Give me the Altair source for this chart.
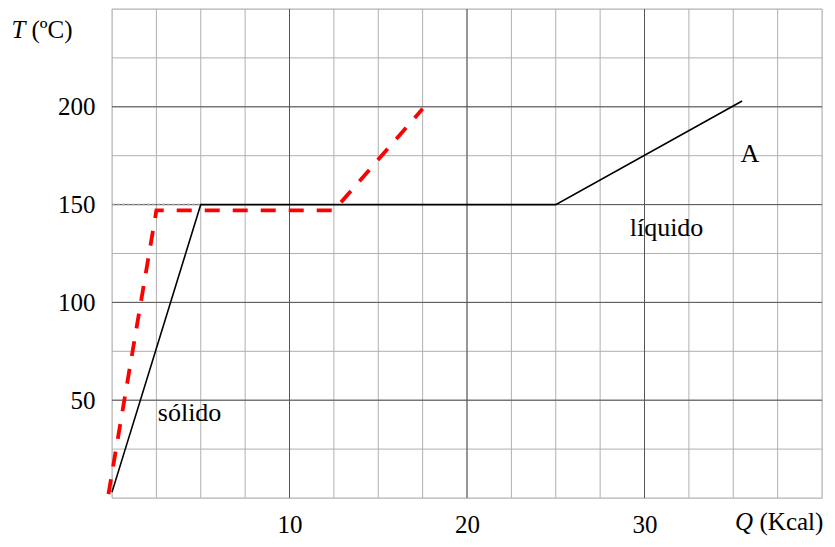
import altair as alt
import pandas as pd

# Data
solid_q = [0, 5, 25, 35.5]
solid_t = [3, 150, 150, 203]
red_q = [-0.2, 2.5, 12.5, 17.5]
red_t = [2, 147, 147, 199]
ref_q = [0, 5]
ref_t = [150, 150]
x_minor = [i * 2.5 for i in range(0, 17)]
x_major = [10, 20, 30]
y_minor = [i * 25 for i in range(0, 11)]
y_major = [50, 100, 150, 200]
ann_text = ["sólido", "líquido", "A"]
ann_q = [4.37, 31.24, 35.94]
ann_t = [39.5, 134, 172]

FONT = "Liberation Serif"
W, H = 710, 489

xs = alt.Scale(domain=[0, 40], nice=False, zero=False)
ys = alt.Scale(domain=[0, 250], nice=False, zero=False)

xaxis = alt.Axis(values=x_major, ticks=False, domain=False, grid=False,
                 labelFont=FONT, labelFontSize=25, labelColor="black",
                 labelPadding=14, title=None)
yaxis = alt.Axis(values=y_major, ticks=False, domain=False, grid=False,
                 labelFont=FONT, labelFontSize=25, labelColor="black",
                 labelPadding=17, title=None)

df_xminor = pd.DataFrame({"q": x_minor})
df_xmajor = pd.DataFrame({"q": x_major})
df_yminor = pd.DataFrame({"t": y_minor})
df_ymajor = pd.DataFrame({"t": y_major})

grid_x_minor = alt.Chart(df_xminor).mark_rule(color="#b0b0b0", strokeWidth=1).encode(
    x=alt.X("q:Q", scale=xs, axis=xaxis))
grid_y_minor = alt.Chart(df_yminor).mark_rule(color="#b0b0b0", strokeWidth=1).encode(
    y=alt.Y("t:Q", scale=ys, axis=yaxis))
grid_x_major = alt.Chart(df_xmajor).mark_rule(color="#555555", strokeWidth=1).encode(
    x=alt.X("q:Q", scale=xs, axis=xaxis))
grid_y_major = alt.Chart(df_ymajor).mark_rule(color="#555555", strokeWidth=1).encode(
    y=alt.Y("t:Q", scale=ys, axis=yaxis))

df_ref = pd.DataFrame({"q": ref_q, "t": ref_t})
ref_line = alt.Chart(df_ref).mark_line(color="#999999", strokeWidth=1.5,
                                       strokeDash=[3, 2]).encode(
    x=alt.X("q:Q", scale=xs, axis=xaxis), y=alt.Y("t:Q", scale=ys, axis=yaxis))

df_solid = pd.DataFrame({"q": solid_q, "t": solid_t, "o": range(len(solid_q))})
solid = alt.Chart(df_solid).mark_line(color="black", strokeWidth=1.6).encode(
    x=alt.X("q:Q", scale=xs, axis=xaxis), y=alt.Y("t:Q", scale=ys, axis=yaxis),
    order="o:Q")

df_red = pd.DataFrame({"q": red_q, "t": red_t, "o": range(len(red_q))})
red = alt.Chart(df_red).mark_line(color="#ff0000", strokeWidth=3.8,
                                  strokeDash=[15, 13], clip=False).encode(
    x=alt.X("q:Q", scale=xs, axis=xaxis), y=alt.Y("t:Q", scale=ys, axis=yaxis),
    order="o:Q")

df_ann = pd.DataFrame({"q": ann_q, "t": ann_t, "txt": ann_text})
ann = alt.Chart(df_ann).mark_text(font=FONT, fontSize=26, color="black",
                                  align="center", baseline="alphabetic").encode(
    x=alt.X("q:Q", scale=xs, axis=xaxis), y=alt.Y("t:Q", scale=ys, axis=yaxis),
    text="txt:N")

# axis titles (mixed italic / roman)
tt1 = alt.Chart(pd.DataFrame({"s": ["T"]})).mark_text(
    font=FONT, fontSize=25, fontStyle="italic", align="left", baseline="alphabetic",
    color="black").encode(x=alt.value(-100.5), y=alt.value(29), text="s:N")
tt2 = alt.Chart(pd.DataFrame({"s": ["(ºC)"]})).mark_text(
    font=FONT, fontSize=25, align="left", baseline="alphabetic",
    color="black").encode(x=alt.value(-80.5), y=alt.value(29), text="s:N")
qt1 = alt.Chart(pd.DataFrame({"s": ["Q"]})).mark_text(
    font=FONT, fontSize=25, fontStyle="italic", align="left", baseline="alphabetic",
    color="black").encode(x=alt.value(623), y=alt.value(521), text="s:N")
qt2 = alt.Chart(pd.DataFrame({"s": ["(Kcal)"]})).mark_text(
    font=FONT, fontSize=25, align="left", baseline="alphabetic",
    color="black").encode(x=alt.value(647.5), y=alt.value(521), text="s:N")

chart = alt.layer(
    grid_x_minor, grid_y_minor, grid_x_major, grid_y_major,
    ref_line, solid, red, ann, tt1, tt2, qt1, qt2
).properties(
    width=W, height=H,
    autosize=alt.AutoSizeParams(type="none"),
    padding={"left": 104, "top": 1, "right": 5, "bottom": 40},
).configure_view(
    stroke="#222222", strokeWidth=1.5
).configure_axis(
    labelFont=FONT, labelFontSize=25, labelColor="black"
).configure_text(
    font=FONT
).configure(background="white")

chart.save("out.html", embed_options={"renderer": "svg", "actions": False})
